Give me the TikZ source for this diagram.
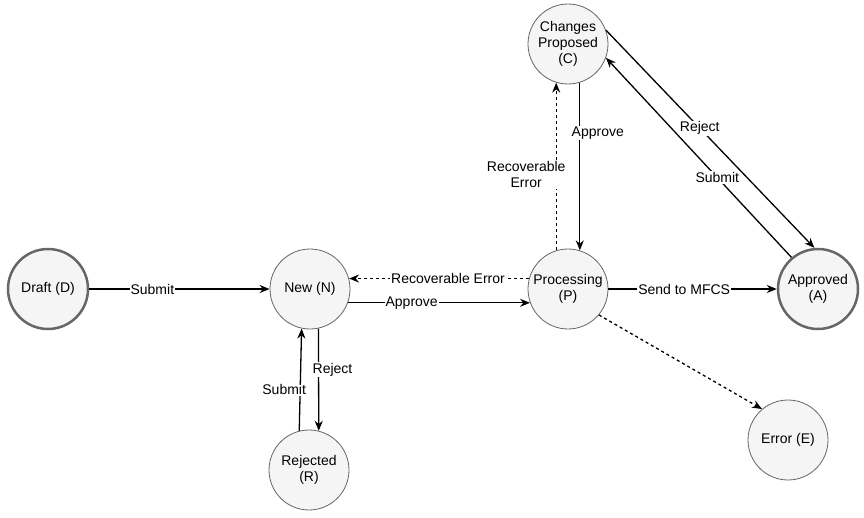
\documentclass[tikz,border=0pt]{standalone}
\usepackage{fontspec}
\setmainfont{Liberation Sans}
\usetikzlibrary{arrows.meta}
\begin{document}
\begin{tikzpicture}[x=1pt,y=-1pt,
  st/.style={circle,draw=black!60,fill=black!4,minimum size=80pt,inner sep=0pt,align=center,font=\fontsize{14}{16}\selectfont,line width=0.8pt},
  fin/.style={st,line width=2.5pt},
  ar/.style={-{Stealth[length=10pt,width=8pt]},line width=1.3pt},
  da/.style={ar,dashed},
  lb/.style={fill=white,inner sep=1pt,font=\fontsize{14}{16}\selectfont,align=center}]
\useasboundingbox (0,0) rectangle (864,517);
\node[fin] (D) at (48,289) {Draft (D)};
\node[st] (N) at (310,289) {New (N)};
\node[st] (R) at (309,470) {Rejected\\(R)};
\node[st] (P) at (568,289) {Processing\\(P)};
\node[st] (C) at (568,44) {Changes\\Proposed\\(C)};
\node[fin] (A) at (818,289) {Approved\\(A)};
\node[st] (E) at (788,440) {Error (E)};
\draw[ar] (D) -- node[lb,pos=0.35]{Submit} (N);
\draw[ar] (N.-20) -- node[lb,pos=0.35]{Approve} (P.200);
\draw[da] (P.165) -- node[lb,pos=0.45]{Recoverable Error} (N.15);
\draw[ar] (P) -- node[lb,pos=0.45]{Send to MFCS} (A);
\draw[da] (P.-40) -- (E.130);
\draw[da] (P.107) -- node[lb,pos=0.45,xshift=-30pt]{Recoverable\\Error} (C.-107);
\draw[ar] (C.-73) -- node[lb,pos=0.3,xshift=18pt]{Approve} (P.73);
\draw[ar] (C.20) -- node[lb,pos=0.45]{Reject} (A.95);
\draw[ar] (A.130) -- node[lb,pos=0.4]{Submit} (C.-20);
\draw[ar] (N.-78) -- node[lb,pos=0.4,xshift=14pt]{Reject} (R.76);
\draw[ar] (R.104) -- node[lb,pos=0.4,xshift=-16pt]{Submit} (N.-102);
\end{tikzpicture}
\end{document}
